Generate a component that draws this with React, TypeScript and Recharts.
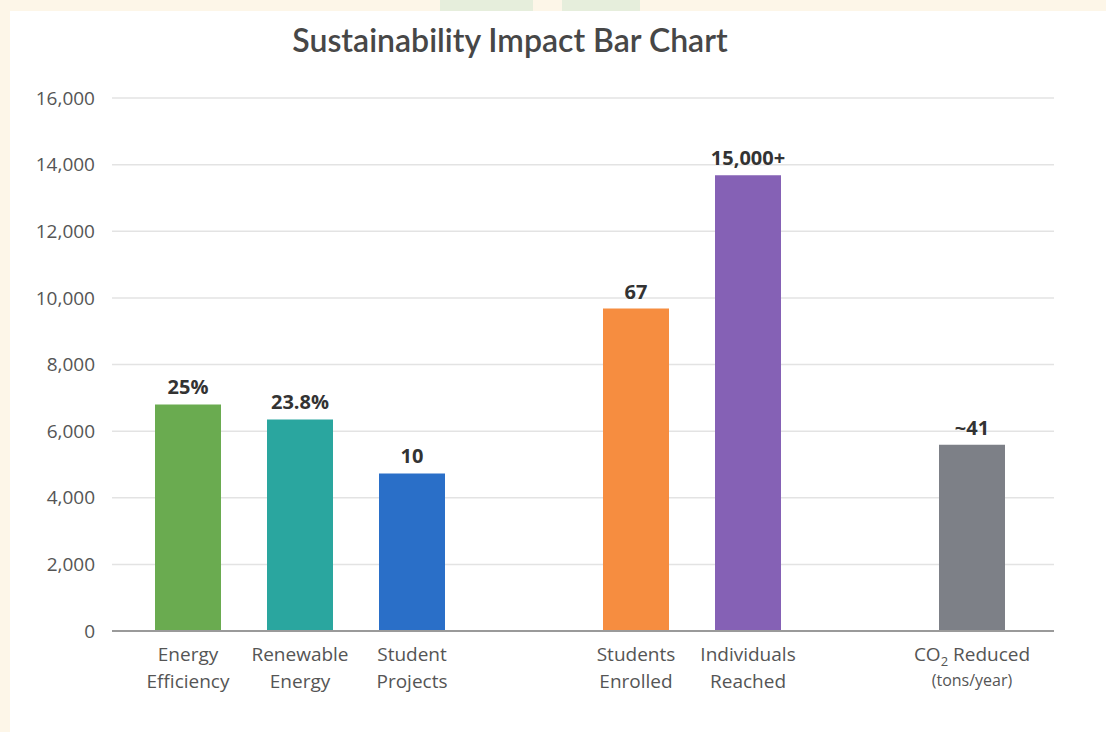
import React from 'react';
import { Bar, BarChart, CartesianGrid, Cell, LabelList, XAxis, YAxis } from 'recharts';

// category keys (gaps keep the empty slots between groups)
const keys = ['ee', 're', 'sp', 'gap1', 'se', 'ir', 'gap2', 'co2'];
const labelTop = ['Energy', 'Renewable', 'Student', '', 'Students', 'Individuals', '', 'CO2 Reduced'];
const labelBottom = ['Efficiency', 'Energy', 'Projects', '', 'Enrolled', 'Reached', '', '(tons/year)'];
const values = [6800, 6350, 4730, null, 9680, 13680, null, 5590];
const valueLabels = ['25%', '23.8%', '10', '', '67', '15,000+', '', '~41'];
const colors = ['#6aab50', '#2aa69f', '#2a6fc8', '#ffffff', '#f68d40', '#8561b5', '#ffffff', '#7d8087'];
const yTicks = [0, 2000, 4000, 6000, 8000, 10000, 12000, 14000, 16000];

const data = keys.map((k, i) => ({
  key: k,
  value: values[i],
  label: valueLabels[i],
}));

const FONT = '"Open Sans", "Noto Sans", sans-serif';

const CategoryTick = (props: any) => {
  const { x, y, payload } = props;
  const i = keys.indexOf(payload.value);
  if (i < 0 || !labelTop[i]) return null;
  const top = labelTop[i];
  const isCo2 = top.startsWith('CO2');
  return (
    <g transform={`translate(${x},${y})`}>
      <text textAnchor="middle" fill="#555" fontSize={19} fontFamily={FONT}>
        {isCo2 ? (
          <tspan x={0} dy={22}>
            CO<tspan fontSize={13} dy={5}>2</tspan>
            <tspan dy={-5}> Reduced</tspan>
          </tspan>
        ) : (
          <tspan x={0} dy={22}>{top}</tspan>
        )}
        <tspan x={0} dy={isCo2 ? 25 : 27} fontSize={isCo2 ? 16 : 19}>
          {labelBottom[i]}
        </tspan>
      </text>
    </g>
  );
};

const App = () => {
  return (
    <div
      style={{
        position: 'absolute',
        left: 0,
        top: 0,
        width: 1106,
        height: 732,
        background: '#fdf6e8',
        overflow: 'hidden',
      }}
    >
      {/* faint decorative shapes in the frame */}
      <div style={{ position: 'absolute', left: 440, top: 0, width: 93, height: 11, background: '#e6eedc' }} />
      <div style={{ position: 'absolute', left: 562, top: 0, width: 78, height: 11, background: '#e6eedc' }} />
      <div
        style={{
          position: 'absolute',
          left: 10,
          top: 11,
          width: 1096,
          height: 721,
          background: '#ffffff',
        }}
      />
      <div
        style={{
          position: 'absolute',
          left: 0,
          top: 21,
          width: 1020,
          textAlign: 'center',
          fontFamily: 'Lato, "Open Sans", sans-serif',
          fontWeight: 600,
          fontSize: 32,
          lineHeight: 1.2,
          color: '#474747',
        }}
      >
        Sustainability Impact Bar Chart
      </div>
      <div style={{ position: 'absolute', left: 0, top: 0 }}>
        <BarChart
          width={1106}
          height={732}
          data={data}
          margin={{ top: 98, right: 52, bottom: 41, left: 10 }}
          barCategoryGap={0}
        >
          <CartesianGrid vertical={false} stroke="#e3e3e3" strokeWidth={1.5} />
          <XAxis
            dataKey="key"
            interval={0}
            height={60}
            padding={{ left: 20, right: 26 }}
            tick={<CategoryTick />}
            tickLine={false}
            axisLine={{ stroke: '#9a9a9a', strokeWidth: 2 }}
          />
          <YAxis
            width={102}
            domain={[0, 16000]}
            ticks={yTicks}
            tickFormatter={(v: number) => v.toLocaleString('en-US')}
            tickLine={false}
            axisLine={false}
            tickMargin={11}
            tick={{ fill: '#555', fontSize: 19, fontFamily: FONT }}
          />
          <Bar dataKey="value" barSize={66} isAnimationActive={false}>
            {data.map((d, i) => (
              <Cell key={d.key} fill={colors[i]} />
            ))}
            <LabelList
              dataKey="label"
              position="top"
              offset={10}
              fill="#333"
              fontSize={20}
              fontWeight={700}
              fontFamily={FONT}
            />
          </Bar>
        </BarChart>
      </div>
    </div>
  );
};

export default App;
